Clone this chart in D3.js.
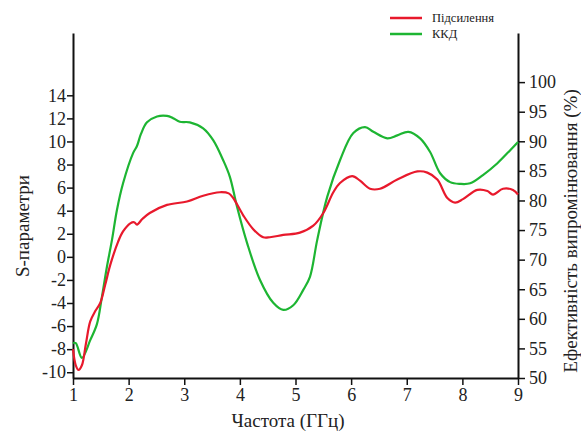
<!DOCTYPE html>
<html lang="uk">
<head>
<meta charset="UTF-8" />
<title>S-параметри / ККД</title>
<script src="https://d3js.org/d3.v7.min.js"></script>
<style>
  body { margin: 0; background: #fff; }
  svg { display: block; }
  text { font-family: "Liberation Serif", "DejaVu Serif", serif; fill: #222; }
</style>
</head>
<body>
<svg width="581" height="432"></svg>
<script>
// частоти (ГГц) та значення
var gainFreq = [1.00, 1.05, 1.10, 1.16, 1.23, 1.31, 1.40, 1.49, 1.58, 1.67, 1.81, 1.90, 2.03, 2.10, 2.15, 2.25, 2.38, 2.69, 3.05, 3.34, 3.64, 3.80, 3.88, 4.06, 4.24, 4.42, 4.54, 4.78, 5.08, 5.32, 5.50, 5.68, 5.80, 6.02, 6.16, 6.34, 6.52, 6.83, 7.19, 7.37, 7.55, 7.73, 7.87, 8.01, 8.27, 8.45, 8.55, 8.73, 8.91, 9.00]
var gainVal = [-8.0, -9.4, -9.8, -9.4, -7.6, -5.6, -4.7, -4.0, -2.4, -0.7, 1.3, 2.2, 2.9, 3.0, 2.8, 3.3, 3.8, 4.5, 4.8, 5.3, 5.6, 5.5, 5.1, 3.6, 2.4, 1.7, 1.7, 1.9, 2.1, 2.7, 3.8, 5.6, 6.4, 7.0, 6.6, 5.9, 5.9, 6.7, 7.4, 7.3, 6.7, 5.1, 4.7, 5.0, 5.8, 5.7, 5.4, 5.9, 5.8, 5.4]

var effFreq = [1.00, 1.05, 1.16, 1.31, 1.43, 1.52, 1.61, 1.70, 1.79, 1.90, 2.08, 2.15, 2.22, 2.33, 2.51, 2.69, 2.80, 2.92, 3.10, 3.34, 3.52, 3.70, 3.82, 3.95, 4.13, 4.36, 4.60, 4.78, 4.96, 5.14, 5.26, 5.39, 5.57, 5.80, 6.04, 6.25, 6.40, 6.65, 6.83, 7.03, 7.24, 7.42, 7.60, 7.78, 7.96, 8.14, 8.37, 8.63, 8.86, 9.00]
var effVal = [55.9, 55.9, 53.4, 56.4, 59.1, 63.7, 68.8, 73.3, 78.4, 82.9, 88.0, 89.2, 91.2, 93.2, 94.2, 94.3, 93.9, 93.3, 93.2, 92.2, 90.2, 86.8, 84.0, 78.9, 72.8, 66.6, 62.7, 61.5, 62.3, 64.9, 67.1, 73.3, 80.6, 86.8, 91.4, 92.4, 91.6, 90.5, 91.0, 91.6, 90.5, 88.2, 84.6, 83.1, 82.8, 82.9, 84.3, 86.3, 88.5, 89.9]

var xTicks = [1, 2, 3, 4, 5, 6, 7, 8, 9]
var leftTicks = [-10, -8, -6, -4, -2, 0, 2, 4, 6, 8, 10, 12, 14]
var rightTicks = [50, 55, 60, 65, 70, 75, 80, 85, 90, 95, 100]

var seriesNames = ['Підсилення', 'ККД']
var seriesColors = ['#e8192c', '#1db532']

var svg = d3.select('svg')
var plotLeft = 73, plotRight = 518, plotTop = 33, plotBottom = 378

var x = d3.scaleLinear().domain([1, 9]).range([plotLeft, plotRight])
var yL = d3.scaleLinear().domain([-10.5, 19.4]).range([plotBottom, plotTop])
var yR = d3.scaleLinear().domain([50, 108.3]).range([plotBottom, plotTop])

var fmt = function (d) { return String(d) }

// осі
var axX = svg.append('g').attr('transform', 'translate(0,' + plotBottom + ')')
  .call(d3.axisBottom(x).tickValues(xTicks).tickFormat(fmt).tickSize(7).tickPadding(3).tickSizeOuter(0))
var axL = svg.append('g').attr('transform', 'translate(' + plotLeft + ',0)')
  .call(d3.axisLeft(yL).tickValues(leftTicks).tickFormat(fmt).tickSize(6).tickPadding(1).tickSizeOuter(0))
var axR = svg.append('g').attr('transform', 'translate(' + plotRight + ',0)')
  .call(d3.axisRight(yR).tickValues(rightTicks).tickFormat(fmt).tickSize(7).tickPadding(4).tickSizeOuter(0))

;[axX, axL, axR].forEach(function (a) {
  a.select('.domain').attr('stroke', '#111').attr('stroke-width', 2)
  a.selectAll('.tick line').attr('stroke', '#111').attr('stroke-width', 1.5)
  a.selectAll('.tick text').attr('font-family', '"Liberation Serif", serif').attr('font-size', 18).attr('fill', '#222')
})

// криві
var lineL = d3.line().x(function (d) { return x(d[0]) }).y(function (d) { return yL(d[1]) }).curve(d3.curveCatmullRom.alpha(0.5))
var lineR = d3.line().x(function (d) { return x(d[0]) }).y(function (d) { return yR(d[1]) }).curve(d3.curveCatmullRom.alpha(0.5))

svg.append('path')
  .datum(d3.zip(effFreq, effVal))
  .attr('d', lineR)
  .attr('fill', 'none')
  .attr('stroke', seriesColors[1])
  .attr('stroke-width', 2.2)

svg.append('path')
  .datum(d3.zip(gainFreq, gainVal))
  .attr('d', lineL)
  .attr('fill', 'none')
  .attr('stroke', seriesColors[0])
  .attr('stroke-width', 2.2)

// підписи осей
svg.append('text')
  .attr('transform', 'translate(29,226) rotate(-90)')
  .attr('text-anchor', 'middle')
  .attr('font-size', 19)
  .text('S-параметри')

svg.append('text')
  .attr('transform', 'translate(577,231) rotate(-90)')
  .attr('text-anchor', 'middle')
  .attr('font-size', 19)
  .text('Ефективність випромінювання (%)')

svg.append('text')
  .attr('x', 288)
  .attr('y', 427)
  .attr('text-anchor', 'middle')
  .attr('font-size', 19)
  .text('Частота (ГГц)')

// легенда
var lg = svg.append('g').selectAll('g').data(seriesNames).enter().append('g')
  .attr('transform', function (d, i) { return 'translate(390,' + (18 + i * 16) + ')' })
lg.append('line').attr('x1', 0).attr('x2', 32).attr('y1', 0).attr('y2', 0)
  .attr('stroke', function (d, i) { return seriesColors[i] }).attr('stroke-width', 2.5)
lg.append('text').attr('x', 42).attr('y', 4).attr('font-size', 12.5).text(function (d) { return d })
</script>
</body>
</html>
